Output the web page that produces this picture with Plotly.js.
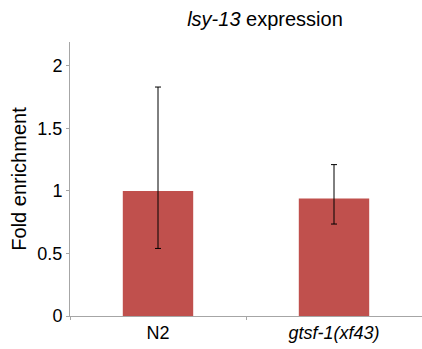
<!DOCTYPE html>
<html><head><meta charset="utf-8">
<script src="https://cdn.plot.ly/plotly-3.0.1.min.js"></script>
<style>html,body{margin:0;padding:0;background:#fff}#c{width:422px;height:349px}</style>
</head><body><div id="c"></div>
<script>
const categories = ["N2", "<i>gtsf-1(xf43)</i>"];
const values = [1.0, 0.94];
const errUpper = [0.83, 0.27];
const errLower = [0.46, 0.205];
const yTicks = [0, 0.5, 1, 1.5, 2];
const yTickLabels = ["0", "0.5", "1", "1.5", "2"];

Plotly.newPlot("c", [{
  type: "bar",
  x: categories,
  y: values,
  width: 0.4,
  marker: {color: "#c0504d"},
  error_y: {type: "data", symmetric: false, array: errUpper, arrayminus: errLower,
            color: "#000", thickness: 1, width: 3}
}], {
  width: 422, height: 349,
  margin: {l: 70, r: 0, t: 42, b: 33, pad: 0},
  paper_bgcolor: "#fff", plot_bgcolor: "#fff",
  font: {family: "Liberation Sans, Arial, sans-serif", color: "#000", size: 18},
  title: {text: "<i>lsy-13</i> expression", x: 265/422, xanchor: "center", y: 1 - 19/349, yanchor: "middle",
          font: {size: 20, color: "#000"}},
  showlegend: false,
  xaxis: {range: [-0.5, 1.5], showline: true, linecolor: "#a6a6a6", linewidth: 1,
          ticks: "outside", tickson: "boundaries", ticklen: 3, tickcolor: "#a6a6a6",
          showgrid: false, zeroline: false, tickfont: {size: 18}, fixedrange: true},
  yaxis: {range: [0, 2.19], showline: true, linecolor: "#a6a6a6", linewidth: 1,
          ticks: "outside", ticklen: 3, tickcolor: "#a6a6a6",
          tickvals: yTicks, ticktext: yTickLabels, showgrid: false, zeroline: false,
          tickfont: {size: 18},
          title: {text: "Fold enrichment", font: {size: 20}, standoff: 5}}
}, {staticPlot: true});
</script></body></html>
